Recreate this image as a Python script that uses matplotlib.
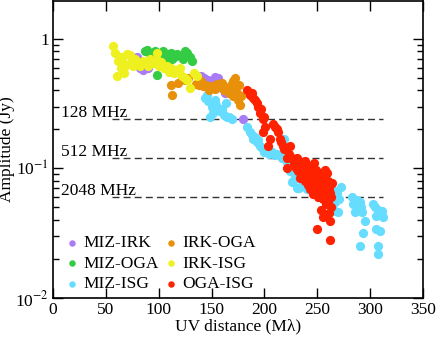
import matplotlib
matplotlib.use("Agg")
import matplotlib.pyplot as plt
from matplotlib.ticker import FixedLocator, FixedFormatter, LogLocator, NullFormatter

plt.rcParams['font.family'] = ['Liberation Serif', 'DejaVu Serif']
plt.rcParams['mathtext.fontset'] = 'stix'

labels = ["MIZ-IRK", "MIZ-OGA", "MIZ-ISG", "IRK-OGA", "IRK-ISG", "OGA-ISG"]
colors = ["#a87cf6", "#33cc44", "#66ddff", "#e8900a", "#eef020", "#ff2200"]

miz_irk = [(80, 0.72), (82, 0.60), (85, 0.58), (87, 0.65), (90, 0.60), (140, 0.52), (143, 0.50),
           (147, 0.48), (150, 0.47), (153, 0.51), (156, 0.50), (160, 0.42), (163, 0.38), (180, 0.24)]
miz_oga = [(87, 0.80), (89, 0.82), (92, 0.76), (95, 0.75), (97, 0.80), (98, 0.53), (100, 0.72),
           (102, 0.78), (104, 0.80), (107, 0.74), (110, 0.76), (112, 0.78), (115, 0.72), (117, 0.77),
           (120, 0.74), (123, 0.70), (125, 0.80), (127, 0.78), (130, 0.72), (132, 0.68), (108, 0.68),
           (113, 0.70)]
miz_isg = [(144, 0.35), (146, 0.37), (147, 0.33), (149, 0.25), (150, 0.30), (151, 0.27), (153, 0.34),
           (154, 0.31), (156, 0.29), (158, 0.28), (160, 0.29), (162, 0.26), (164, 0.32), (165, 0.25),
           (167, 0.25), (169, 0.24), (184, 0.21), (186, 0.19), (188, 0.18), (189, 0.17), (191, 0.175),
           (193, 0.16), (194, 0.165), (196, 0.15), (198, 0.145), (200, 0.135), (202, 0.14), (204, 0.13),
           (207, 0.135), (210, 0.128), (212, 0.13), (215, 0.128), (217, 0.12), (219, 0.17), (221, 0.113),
           (223, 0.105), (224, 0.095), (226, 0.10), (227, 0.08), (226, 0.078), (229, 0.088), (231, 0.07),
           (233, 0.071), (236, 0.075), (240, 0.069), (243, 0.10), (247, 0.085), (250, 0.07), (255, 0.07),
           (262, 0.075), (265, 0.068), (267, 0.055), (267, 0.047), (269, 0.065), (270, 0.046), (271, 0.058),
           (272, 0.072), (283, 0.06), (284, 0.053), (286, 0.046), (288, 0.057), (290, 0.055), (291, 0.05),
           (292, 0.046), (293, 0.032), (295, 0.039), (290, 0.025), (303, 0.053), (305, 0.05), (307, 0.048),
           (306, 0.043), (306, 0.034), (309, 0.033), (307, 0.025), (307, 0.022), (311, 0.047), (312, 0.042),
           (310, 0.045)]
irk_oga = [(112, 0.44), (113, 0.37), (118, 0.46), (122, 0.51), (125, 0.48), (128, 0.50), (135, 0.45),
           (138, 0.44), (140, 0.47), (142, 0.43), (145, 0.44), (148, 0.40), (150, 0.43), (153, 0.41),
           (155, 0.45), (158, 0.43), (160, 0.46), (162, 0.40), (165, 0.42), (167, 0.38), (168, 0.44),
           (170, 0.47), (172, 0.50), (172, 0.42), (174, 0.38), (175, 0.34), (176, 0.44), (177, 0.31),
           (178, 0.36), (170, 0.36)]
irk_isg = [(57, 0.88), (59, 0.78), (61, 0.52), (62, 0.68), (64, 0.72), (66, 0.66), (68, 0.62), (70, 0.77),
           (73, 0.75), (75, 0.68), (76, 0.62), (78, 0.70), (80, 0.65), (82, 0.62), (85, 0.67), (88, 0.66),
           (90, 0.62), (92, 0.70), (95, 0.65), (98, 0.69), (98, 0.78), (100, 0.62), (102, 0.66), (105, 0.60),
           (108, 0.62), (110, 0.56), (112, 0.60), (115, 0.55), (117, 0.58), (120, 0.60), (122, 0.52),
           (125, 0.50), (127, 0.48), (130, 0.42), (133, 0.55), (136, 0.52), (64, 0.60), (67, 0.55)]
oga_isg = [(184, 0.40), (186, 0.37), (188, 0.38), (189, 0.35), (191, 0.34), (193, 0.32), (194, 0.30),
           (196, 0.27), (197, 0.29), (199, 0.24), (200, 0.25), (199, 0.19), (201, 0.21), (203, 0.15),
           (205, 0.17), (208, 0.22), (210, 0.21), (212, 0.20), (213, 0.19), (215, 0.17), (216, 0.16),
           (218, 0.15), (219, 0.14), (221, 0.12), (221, 0.10), (223, 0.13), (224, 0.15), (226, 0.12),
           (228, 0.11), (229, 0.117), (230, 0.10), (231, 0.12), (232, 0.095), (234, 0.098), (234, 0.085),
           (235, 0.093), (236, 0.11), (237, 0.09), (238, 0.08), (239, 0.10), (240, 0.082), (240, 0.095),
           (241, 0.075), (242, 0.088), (243, 0.069), (243, 0.08), (244, 0.095), (245, 0.078), (245, 0.085),
           (246, 0.063), (246, 0.09), (247, 0.072), (248, 0.082), (248, 0.095), (249, 0.098), (249, 0.066),
           (250, 0.076), (250, 0.034), (251, 0.088), (251, 0.06), (252, 0.07), (253, 0.078), (253, 0.093),
           (254, 0.048), (254, 0.065), (255, 0.058), (255, 0.042), (256, 0.072), (256, 0.085), (257, 0.098),
           (257, 0.062), (258, 0.053), (258, 0.075), (259, 0.093), (259, 0.067), (260, 0.055), (260, 0.08),
           (261, 0.045), (261, 0.07), (262, 0.065), (262, 0.039), (262, 0.028), (263, 0.06), (263, 0.05),
           (264, 0.077), (238, 0.115), (244, 0.105), (247, 0.11)]

series = [miz_irk, miz_oga, miz_isg, irk_oga, irk_isg, oga_isg]

freq_labels = ["128 MHz", "512 MHz", "2048 MHz"]
freq_levels = [0.24, 0.12, 0.06]
line_x = (56, 312)

FS = 12.5

fig = plt.figure(figsize=(4.37, 3.39), dpi=100)
ax = fig.add_axes([0.121, 0.121, 0.847, 0.876])

for data, lab, col in zip(series, labels, colors):
    xs = [p[0] for p in data]
    ys = [p[1] for p in data]
    ax.scatter(xs, ys, s=44, color=col, label=lab, linewidths=0, zorder=3)

for lab, lev in zip(freq_labels, freq_levels):
    ax.plot(line_x, [lev, lev], color="#333333", lw=1.0, dashes=(5, 3), zorder=2)
    ax.text(8, lev * 1.04, lab, fontsize=FS, va="baseline", ha="left")

ax.set_yscale("log")
ax.set_xlim(0, 350)
ax.set_ylim(0.01, 1.96)
ax.set_xticks([0, 50, 100, 150, 200, 250, 300, 350])
ax.yaxis.set_major_locator(FixedLocator([0.01, 0.1, 1]))
ax.yaxis.set_major_formatter(FixedFormatter(["10$^{-2}$", "10$^{-1}$", "1"]))
ax.yaxis.set_minor_locator(LogLocator(base=10, subs=range(2, 10)))
ax.yaxis.set_minor_formatter(NullFormatter())

ax.tick_params(which="both", direction="in", top=True, right=True, labelsize=FS, width=1)
ax.tick_params(which="major", length=7, pad=3)
ax.tick_params(which="minor", length=4)
for sp in ax.spines.values():
    sp.set_linewidth(1.2)

ax.set_xlabel("UV distance (M\u03bb)", fontsize=FS, labelpad=0)
ax.set_ylabel("Amplitude (Jy)", fontsize=FS, labelpad=0)

leg = ax.legend(ncol=2, loc="lower left", bbox_to_anchor=(0.003, -0.004), frameon=False,
                fontsize=FS, handletextpad=0.0, columnspacing=0.05, labelspacing=0.25,
                markerscale=0.7, handlelength=1.3, borderaxespad=0)

fig.savefig("out.png", dpi=100)
